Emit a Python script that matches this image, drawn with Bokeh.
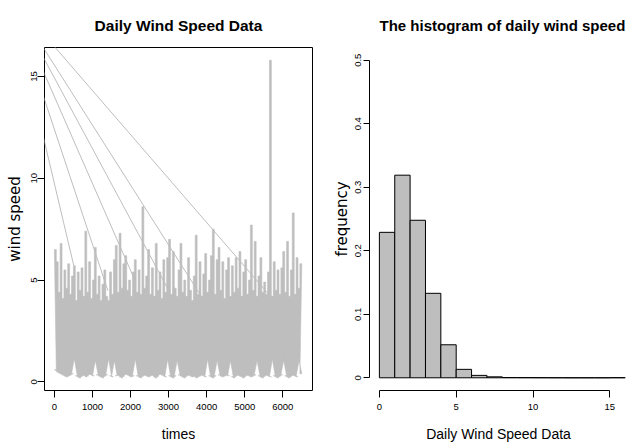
import numpy as np
from bokeh.plotting import figure
from bokeh.layouts import row
from bokeh.models import Range1d, FixedTicker
from bokeh.embed import file_html
from bokeh.resources import INLINE

# ---------------- data ----------------
# Daily wind speed, summarised per 50-day block: lowest and highest value in each block
bin_days = 50
speed_hi = [6.5, 5.9, 4.4, 6.8, 4.1, 5.5, 4.6, 5.8, 4.3, 5.2,
            5.7, 4.0, 5.4, 4.5, 5.6, 4.2, 7.4, 4.4, 5.9, 4.1,
            5.0, 6.6, 4.3, 5.2, 4.0, 4.8, 5.5, 4.2, 4.0, 5.4,
            4.3, 6.0, 6.7, 4.4, 7.3, 4.6, 5.8, 6.2, 4.5, 5.0,
            4.2, 5.4, 6.0, 4.4, 5.5, 4.3, 8.6, 4.6, 5.2, 6.5,
            4.3, 5.6, 4.2, 6.8, 4.5, 5.4, 4.1, 6.0, 4.4, 6.1,
            7.0, 4.3, 6.4, 4.6, 4.2, 5.5, 6.8, 4.4, 5.0, 4.2,
            6.1, 4.5, 4.0, 5.2, 7.2, 4.3, 5.9, 4.2, 5.3, 6.3,
            4.4, 5.0, 6.2, 7.5, 4.3, 6.0, 6.6, 4.5, 5.9, 4.1,
            5.5, 6.1, 4.2, 5.7, 4.4, 6.1, 4.6, 6.4, 4.2, 5.4,
            6.0, 4.3, 5.0, 7.7, 4.5, 6.9, 4.2, 5.2, 6.1, 4.4,
            4.9, 4.3, 5.4, 15.8, 4.2, 5.9, 4.5, 5.5, 4.3, 5.6,
            6.4, 4.4, 6.9, 4.2, 5.5, 8.3, 4.3, 6.1, 4.6, 5.8]
speed_lo = [0.6, 0.5, 0.45, 0.4, 0.35, 0.3, 0.25, 0.3, 0.35, 0.4,
            1.4, 0.3, 0.25, 0.2, 0.3, 0.35, 0.25, 0.3, 0.4, 0.35,
            0.3, 1.3, 0.35, 0.3, 0.25, 0.2, 0.3, 0.35, 1.4, 0.3,
            0.25, 1.3, 0.3, 0.35, 0.25, 0.2, 0.3, 0.4, 0.35, 0.3,
            0.25, 0.3, 1.4, 0.3, 0.25, 0.2, 0.3, 0.35, 0.3, 0.25,
            0.3, 0.35, 0.25, 0.2, 0.3, 0.4, 0.35, 0.3, 0.25, 1.4,
            0.3, 0.25, 0.2, 0.3, 1.3, 0.35, 0.3, 0.25, 0.2, 0.3,
            0.35, 0.3, 0.25, 0.3, 0.2, 0.25, 0.3, 0.35, 0.3, 0.25,
            1.4, 0.3, 0.25, 0.2, 0.3, 1.3, 0.35, 0.3, 0.25, 0.3,
            0.35, 0.3, 1.3, 0.25, 0.2, 0.3, 0.35, 0.3, 0.25, 0.2,
            0.3, 0.35, 0.3, 0.25, 0.3, 0.35, 1.3, 0.3, 0.25, 0.2,
            0.3, 0.35, 0.3, 0.25, 1.4, 0.3, 0.25, 0.2, 0.3, 0.35,
            1.3, 0.3, 0.25, 0.2, 0.3, 0.35, 0.3, 0.25, 1.3, 0.4]

# the straight "return" lines of the series (start point off the chart, end points in the data)
wrap_start_x = -1170
wrap_start_y = 19.0
wrap_end_x = [509, 1405, 2117, 2979, 4015, 5729]
wrap_end_y = [5.71, 4.48, 4.98, 4.58, 3.74, 4.09]

time_ticks = [0, 1000, 2000, 3000, 4000, 5000, 6000]
speed_ticks = [0, 5, 10, 15]

# Histogram (density) of daily wind speed
hist_breaks = [0, 1, 2, 3, 4, 5, 6, 7, 8, 9, 10, 11, 12, 13, 14, 15, 16]
hist_density = [0.229, 0.319, 0.248, 0.133, 0.052, 0.0133, 0.0038, 0.0015,
                0.0004, 0.0003, 0.0002, 0.0001, 0.0, 0.0, 0.0, 0.0002]
hist_xticks = [0, 5, 10, 15]
hist_yticks = [0.0, 0.1, 0.2, 0.3, 0.4, 0.5]

# ---------------- styling ----------------
SANS = "Liberation Sans"
GREY = "#BEBEBE"


def style_axes(p, xlabel, ylabel):
    p.xgrid.visible = False
    p.ygrid.visible = False
    for ax in (p.xaxis[0], p.yaxis[0]):
        ax.major_tick_in = 0
        ax.major_tick_out = 7
        ax.minor_tick_in = 0
        ax.minor_tick_out = 0
        ax.major_tick_line_color = "black"
        ax.axis_line_color = "black"
        ax.major_label_text_color = "black"
        ax.axis_label_text_color = "black"
        ax.axis_label_text_font_style = "normal"
    p.xaxis.axis_label = xlabel
    p.xaxis.axis_label_text_font = SANS
    p.xaxis.axis_label_text_font_size = "14px"
    p.xaxis.axis_label_standoff = 13
    p.xaxis.major_label_text_font = SANS
    p.xaxis.major_label_text_font_size = "9.5px"
    p.xaxis.major_label_standoff = 6
    p.yaxis.axis_label = ylabel
    p.yaxis.axis_label_text_font = "DejaVu Sans"
    p.yaxis.axis_label_text_font_size = "15px"
    p.yaxis.major_label_text_font = SANS
    p.yaxis.major_label_text_font_size = "9.5px"
    p.yaxis.major_label_orientation = "vertical"
    p.title.text_font = SANS
    p.title.text_font_style = "bold"
    p.title.text_color = "black"
    p.title.standoff = 28


# ---------------- left: time series ----------------
left = figure(width=329, height=446, x_range=Range1d(-260, 6781), y_range=Range1d(-0.424, 16.424),
              output_backend="svg", toolbar_location=None,
              min_border_left=44, min_border_right=17, min_border_top=47, min_border_bottom=56,
              title="Daily Wind Speed Data")
style_axes(left, "times", "wind speed")
left.title.align = "center"
left.title.text_font_size = "15.5px"
left.outline_line_color = "black"
left.outline_line_width = 1
left.xaxis.axis_line_color = None
left.yaxis.axis_line_color = None
left.xaxis.ticker = FixedTicker(ticks=time_ticks)
left.yaxis.ticker = FixedTicker(ticks=speed_ticks)
left.yaxis.major_label_standoff = 0
left.yaxis.axis_label_standoff = 5

# band of the daily series: one step-shaped patch from the block minima / maxima
x0 = np.arange(len(speed_hi)) * bin_days
x1 = x0 + bin_days
band_x = np.concatenate([np.column_stack([x0, x1]).ravel(), np.column_stack([x1, x0]).ravel()[::-1]])
band_y = np.concatenate([np.repeat(speed_hi, 2), np.repeat(speed_lo, 2)[::-1]])
left.patch(band_x, band_y, fill_color=GREY, line_color=GREY, line_width=0.6)

n = len(wrap_end_x)
left.segment(x0=[wrap_start_x] * n, y0=[wrap_start_y] * n, x1=wrap_end_x, y1=wrap_end_y,
             line_color=GREY, line_width=1)

# ---------------- right: histogram ----------------
right = figure(width=298, height=446, x_range=Range1d(-0.643, 16.15), y_range=Range1d(-0.02, 0.52),
               output_backend="svg", toolbar_location=None,
               min_border_left=39, min_border_right=0, min_border_top=47, min_border_bottom=56,
               title="The histogram of daily wind speed")
style_axes(right, "Daily Wind Speed Data", "frequency")
right.title.align = "left"
right.title.offset = 10
right.title.text_font_size = "15px"
right.outline_line_color = None
right.xaxis.ticker = FixedTicker(ticks=hist_xticks)
right.yaxis.ticker = FixedTicker(ticks=hist_yticks)
right.xaxis.bounds = (hist_xticks[0], hist_xticks[-1])
right.yaxis.bounds = (hist_yticks[0], hist_yticks[-1])
right.yaxis.major_tick_out = 6
right.yaxis.major_label_standoff = 2
right.yaxis.axis_label_standoff = 2

right.quad(left=hist_breaks[:-1], right=hist_breaks[1:], bottom=0, top=hist_density,
           fill_color=GREY, line_color="black", line_width=1)

layout = row(left, right)
open("out.html", "w").write(file_html(layout, INLINE))
